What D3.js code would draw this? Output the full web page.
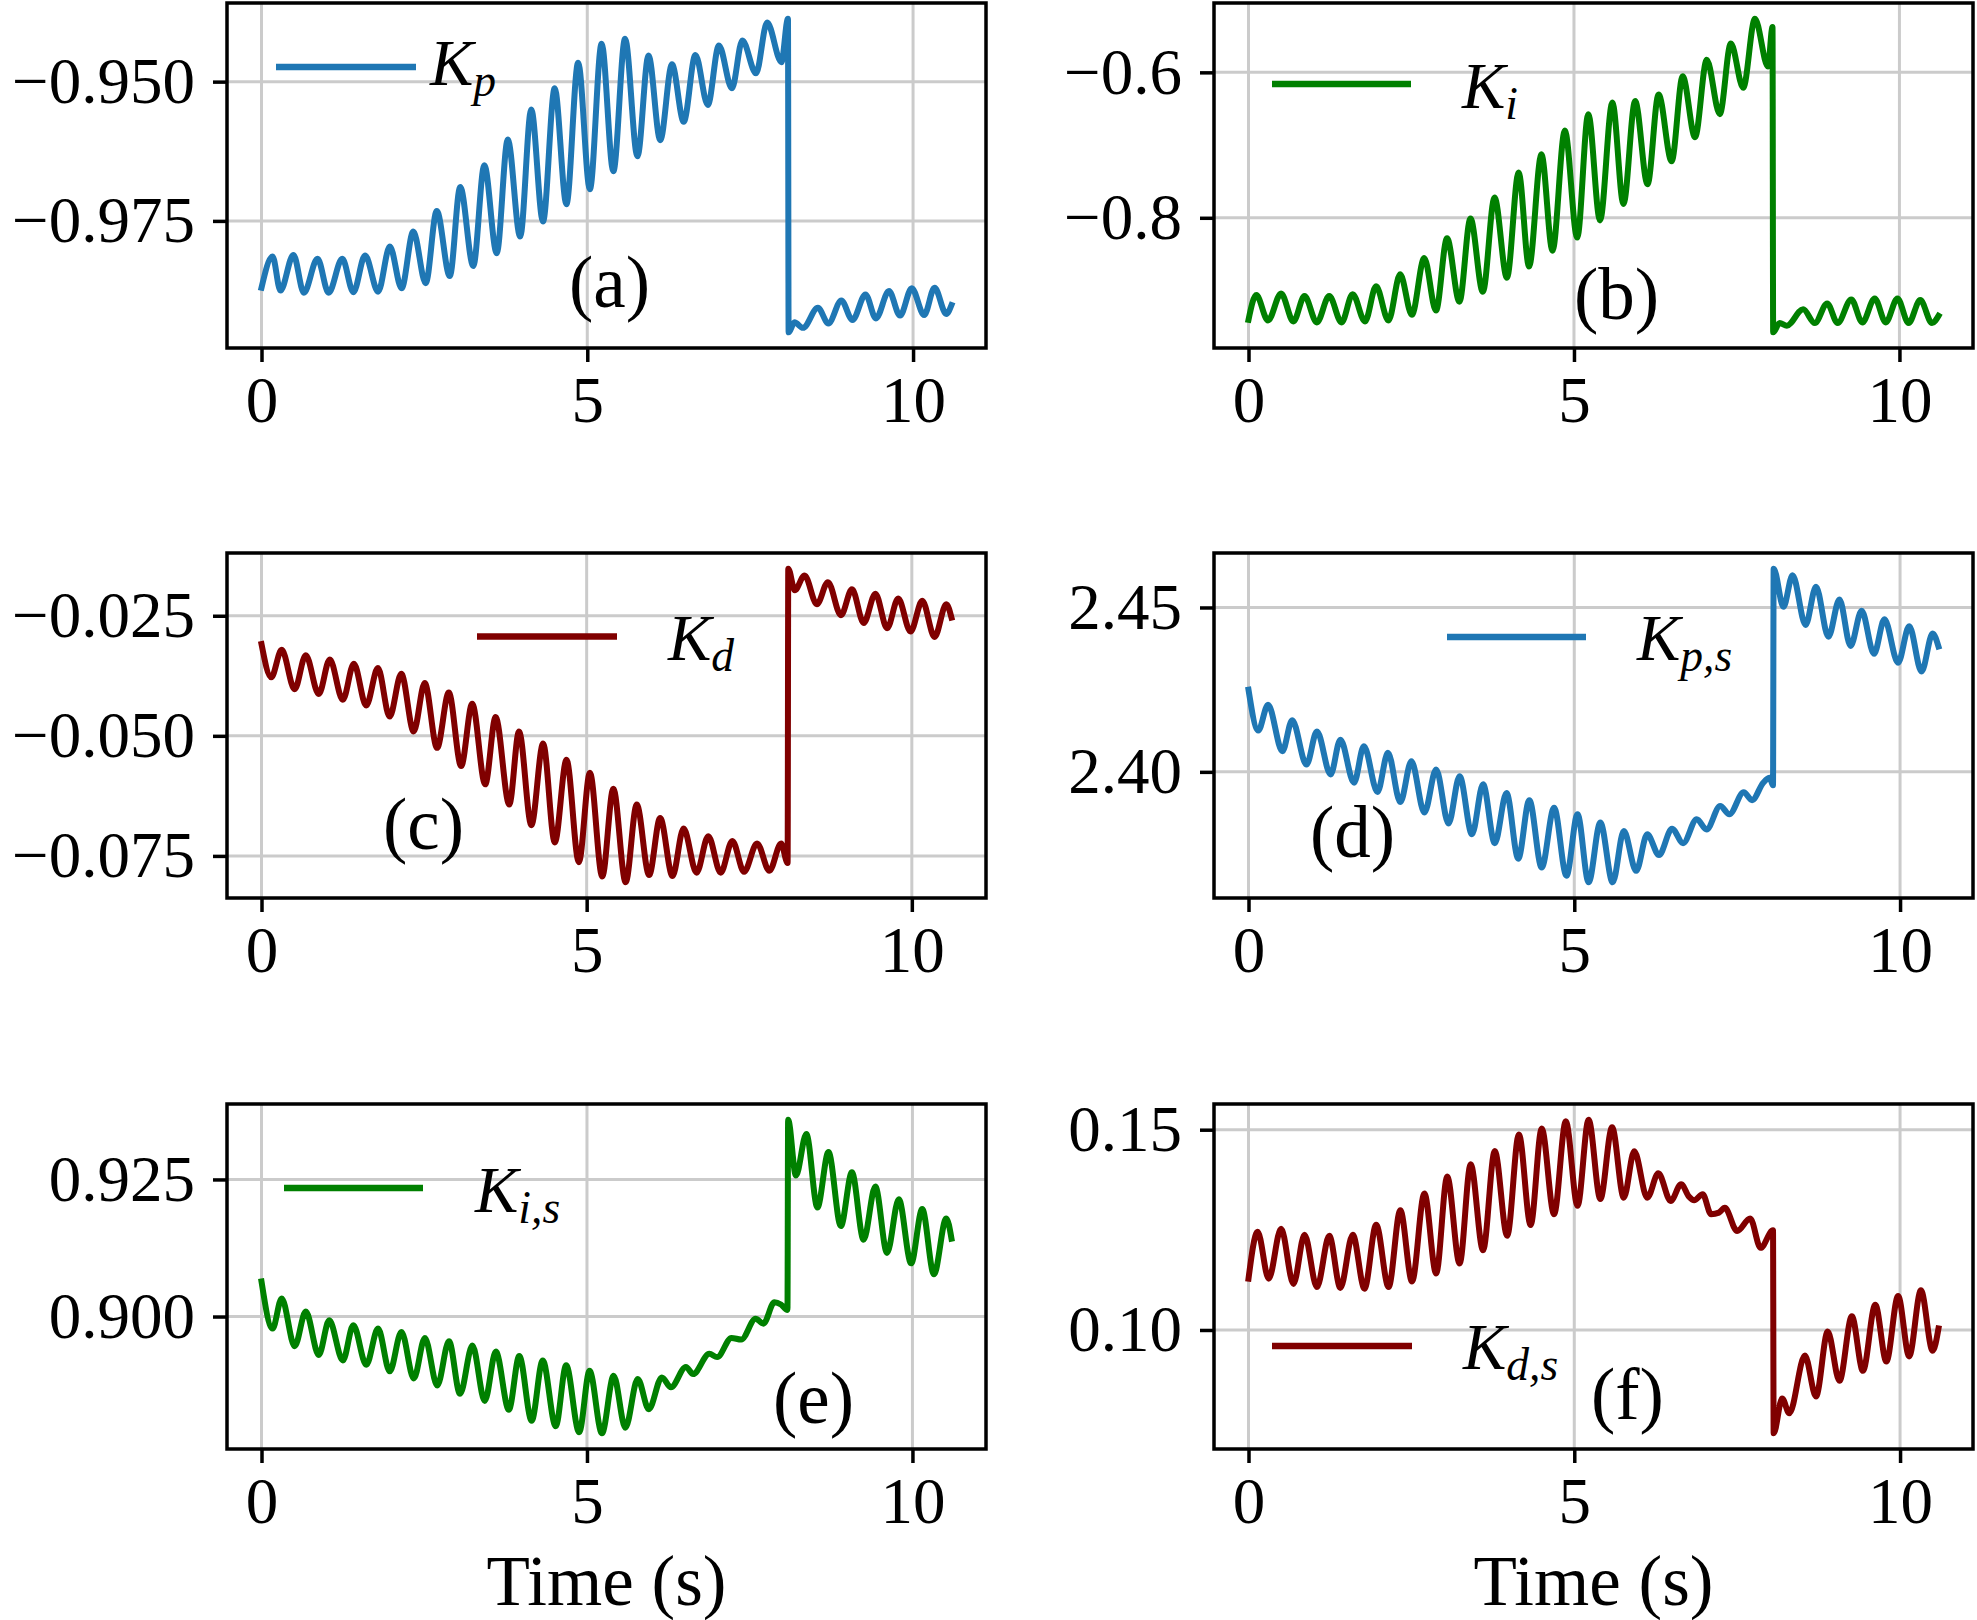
<!DOCTYPE html>
<html><head><meta charset="utf-8">
<script src="https://cdn.jsdelivr.net/npm/d3@7"></script>
<style>html,body{margin:0;padding:0;background:#fff;} svg{display:block;}</style>
</head><body><svg id="chart" width="1977" height="1620"></svg>
<script>
// ---- data (time in s, gain values at extrema) ----
const kpTime = [0,0.17,0.29,0.49,0.65,0.86,1.03,1.24,1.41,1.59,1.79,1.97,2.15,2.33,2.52,2.69,2.89,3.05,3.25,3.42,3.61,3.78,3.97,4.14,4.32,4.50,4.68,4.86,5.04,5.22,5.40,5.58,5.77,5.94,6.12,6.30,6.48,6.66,6.85,7.02,7.22,7.38,7.59,7.76,7.98,8.08,8.09,8.18,8.31,8.54,8.70,8.90,9.07,9.27,9.43,9.63,9.80,9.98,10.17,10.33,10.51,10.59];
const kpValue = [-0.9870,-0.9814,-0.9875,-0.9811,-0.9879,-0.9818,-0.9879,-0.9818,-0.9878,-0.9812,-0.9877,-0.9796,-0.9871,-0.9769,-0.9862,-0.9732,-0.9849,-0.9689,-0.9831,-0.9650,-0.9808,-0.9604,-0.9778,-0.9550,-0.9751,-0.9512,-0.9720,-0.9466,-0.9693,-0.9432,-0.9661,-0.9423,-0.9634,-0.9453,-0.9605,-0.9469,-0.9572,-0.9452,-0.9542,-0.9435,-0.9512,-0.9426,-0.9485,-0.9394,-0.9465,-0.9387,-0.9950,-0.9932,-0.9942,-0.9906,-0.9934,-0.9893,-0.9928,-0.9882,-0.9925,-0.9876,-0.9920,-0.9871,-0.9919,-0.9870,-0.9917,-0.9901];

const kiTime = [0,0.12,0.30,0.50,0.69,0.86,1.05,1.24,1.43,1.60,1.79,1.96,2.15,2.33,2.51,2.70,2.88,3.05,3.24,3.41,3.60,3.78,3.97,4.15,4.31,4.50,4.67,4.86,5.05,5.22,5.40,5.59,5.76,5.94,6.13,6.30,6.50,6.67,6.86,7.04,7.24,7.41,7.60,7.78,7.98,8.05,8.06,8.16,8.27,8.52,8.70,8.89,9.05,9.26,9.43,9.62,9.79,9.97,10.14,10.32,10.50,10.60];
const kiValue = [-0.9403,-0.9063,-0.9412,-0.9041,-0.9425,-0.9077,-0.9439,-0.9077,-0.9439,-0.9050,-0.9425,-0.8941,-0.9412,-0.8778,-0.9335,-0.8552,-0.9276,-0.8281,-0.9154,-0.8009,-0.9018,-0.7720,-0.8824,-0.7376,-0.8670,-0.7127,-0.8453,-0.6801,-0.8272,-0.6575,-0.8036,-0.6416,-0.7810,-0.6394,-0.7539,-0.6303,-0.7222,-0.6054,-0.6891,-0.5828,-0.6575,-0.5602,-0.6213,-0.5262,-0.5919,-0.5376,-0.9575,-0.9448,-0.9484,-0.9258,-0.9448,-0.9177,-0.9448,-0.9122,-0.9439,-0.9109,-0.9439,-0.9109,-0.9448,-0.9131,-0.9448,-0.9349];

const kdTime = [0,0.15,0.31,0.51,0.68,0.88,1.05,1.25,1.42,1.61,1.79,1.97,2.15,2.34,2.51,2.70,2.88,3.07,3.24,3.44,3.60,3.81,3.96,4.15,4.33,4.51,4.69,4.88,5.05,5.24,5.41,5.60,5.77,5.96,6.13,6.32,6.49,6.69,6.87,7.06,7.24,7.42,7.62,7.81,7.99,8.09,8.10,8.20,8.35,8.54,8.71,8.91,9.08,9.26,9.44,9.62,9.79,9.98,10.16,10.35,10.53,10.61];
const kdValue = [-0.0309,-0.0378,-0.0321,-0.0403,-0.0332,-0.0413,-0.0341,-0.0425,-0.0350,-0.0437,-0.0359,-0.0460,-0.0371,-0.0491,-0.0390,-0.0525,-0.0410,-0.0563,-0.0433,-0.0601,-0.0461,-0.0643,-0.0491,-0.0686,-0.0516,-0.0722,-0.0550,-0.0763,-0.0577,-0.0793,-0.0610,-0.0805,-0.0643,-0.0790,-0.0671,-0.0792,-0.0693,-0.0785,-0.0709,-0.0785,-0.0719,-0.0783,-0.0724,-0.0781,-0.0724,-0.0765,-0.0152,-0.0197,-0.0166,-0.0226,-0.0180,-0.0249,-0.0195,-0.0265,-0.0204,-0.0276,-0.0214,-0.0283,-0.0219,-0.0294,-0.0226,-0.0254];

const kpsTime = [0,0.15,0.30,0.52,0.67,0.89,1.05,1.26,1.41,1.62,1.77,1.98,2.14,2.33,2.50,2.70,2.88,3.07,3.24,3.43,3.60,3.78,3.96,4.14,4.31,4.50,4.69,4.88,5.05,5.22,5.40,5.59,5.76,5.95,6.12,6.30,6.50,6.67,6.88,7.03,7.24,7.38,7.60,7.73,7.90,8.00,8.05,8.06,8.21,8.35,8.55,8.71,8.90,9.07,9.24,9.41,9.60,9.76,9.97,10.14,10.33,10.50,10.59];
const kpsValue = [2.4250,2.4126,2.4204,2.4063,2.4157,2.4022,2.4123,2.3992,2.4098,2.3967,2.4078,2.3939,2.4058,2.3908,2.4032,2.3876,2.4007,2.3843,2.3987,2.3810,2.3962,2.3783,2.3936,2.3736,2.3914,2.3709,2.3891,2.3684,2.3871,2.3664,2.3846,2.3664,2.3820,2.3699,2.3810,2.3747,2.3827,2.3783,2.3856,2.3825,2.3896,2.3871,2.3938,2.3914,2.3967,2.3982,2.3959,2.4618,2.4502,2.4598,2.4447,2.4563,2.4411,2.4524,2.4383,2.4490,2.4359,2.4464,2.4332,2.4443,2.4305,2.4421,2.4381];

const kisTime = [0,0.17,0.31,0.51,0.68,0.88,1.04,1.25,1.41,1.61,1.79,1.97,2.15,2.34,2.51,2.70,2.88,3.05,3.24,3.43,3.60,3.80,3.96,4.15,4.32,4.52,4.68,4.88,5.04,5.23,5.41,5.59,5.78,5.95,6.15,6.29,6.52,6.63,6.88,7.00,7.22,7.37,7.59,7.71,7.88,7.98,8.08,8.09,8.21,8.37,8.54,8.71,8.90,9.07,9.25,9.43,9.61,9.79,9.98,10.15,10.33,10.52,10.60];
const kisValue = [0.9064,0.8978,0.9033,0.8946,0.9009,0.8930,0.8993,0.8920,0.8984,0.8912,0.8978,0.8900,0.8972,0.8887,0.8961,0.8874,0.8955,0.8859,0.8947,0.8846,0.8936,0.8830,0.8928,0.8810,0.8920,0.8800,0.8911,0.8789,0.8901,0.8787,0.8892,0.8797,0.8886,0.8831,0.8889,0.8871,0.8908,0.8895,0.8932,0.8926,0.8961,0.8958,0.8996,0.8987,0.9026,0.9022,0.9012,0.9359,0.9257,0.9333,0.9199,0.9300,0.9165,0.9263,0.9140,0.9237,0.9116,0.9214,0.9097,0.9196,0.9077,0.9179,0.9142];

const kdsTime = [0,0.14,0.31,0.50,0.69,0.86,1.05,1.24,1.41,1.60,1.78,1.96,2.15,2.33,2.51,2.70,2.88,3.05,3.24,3.41,3.60,3.78,3.97,4.15,4.33,4.50,4.69,4.87,5.05,5.22,5.40,5.58,5.76,5.92,6.12,6.29,6.48,6.64,6.76,6.84,6.97,7.10,7.22,7.31,7.50,7.70,7.86,8.05,8.06,8.19,8.30,8.54,8.71,8.89,9.07,9.26,9.43,9.62,9.79,9.97,10.14,10.32,10.50,10.59];
const kdsValue = [0.1128,0.1245,0.1128,0.1253,0.1115,0.1238,0.1107,0.1235,0.1105,0.1238,0.1103,0.1263,0.1107,0.1299,0.1121,0.1341,0.1141,0.1383,0.1166,0.1414,0.1199,0.1447,0.1235,0.1488,0.1262,0.1503,0.1289,0.1521,0.1310,0.1525,0.1327,0.1506,0.1330,0.1446,0.1330,0.1391,0.1322,0.1364,0.1333,0.1324,0.1339,0.1289,0.1293,0.1305,0.1247,0.1278,0.1205,0.1249,0.0742,0.0829,0.0792,0.0936,0.0834,0.0996,0.0873,0.1034,0.0898,0.1063,0.0921,0.1085,0.0934,0.1099,0.0948,0.1004];

// tick labels
const xTicks = [0, 5, 10];
const kpTicks = [-0.975, -0.950];
const kiTicks = [-0.8, -0.6];
const kdTicks = [-0.075, -0.050, -0.025];
const kpsTicks = [2.40, 2.45];
const kisTicks = [0.900, 0.925];
const kdsTicks = [0.10, 0.15];
const xLabel = "Time (s)";

// ---- layout / style ----
const SERIF = "'Liberation Serif','Times New Roman',Times,serif";
const W = 759, H = 345;
const colX = [227, 1214], rowY = [3, 553, 1104];

const panels = [
  {time: kpTime, value: kpValue, ticks: kpTicks, fmt: ".3f", color: "#1f77b4", sub: "p", tag: "(a)", col: 0, row: 0,
   leg: {x0: 49, x1: 189, y: 64, tx: 203, ty: 82}, ann: {x: 342, y: 304}},
  {time: kiTime, value: kiValue, ticks: kiTicks, fmt: ".1f", color: "#008000", sub: "i", tag: "(b)", col: 1, row: 0,
   leg: {x0: 58, x1: 197, y: 81, tx: 248, ty: 105}, ann: {x: 360, y: 316}},
  {time: kdTime, value: kdValue, ticks: kdTicks, fmt: ".3f", color: "#800000", sub: "d", tag: "(c)", col: 0, row: 1,
   leg: {x0: 250, x1: 390, y: 83.5, tx: 441, ty: 107}, ann: {x: 156, y: 296}},
  {time: kpsTime, value: kpsValue, ticks: kpsTicks, fmt: ".2f", color: "#1f77b4", sub: "p,s", tag: "(d)", col: 1, row: 1,
   leg: {x0: 233, x1: 372, y: 84, tx: 423, ty: 107}, ann: {x: 96, y: 304}},
  {time: kisTime, value: kisValue, ticks: kisTicks, fmt: ".3f", color: "#008000", sub: "i,s", tag: "(e)", col: 0, row: 2,
   leg: {x0: 57, x1: 196, y: 84, tx: 248, ty: 108}, ann: {x: 546, y: 319}},
  {time: kdsTime, value: kdsValue, ticks: kdsTicks, fmt: ".2f", color: "#800000", sub: "d,s", tag: "(f)", col: 1, row: 2,
   leg: {x0: 58, x1: 198, y: 242, tx: 249, ty: 265}, ann: {x: 377, y: 315}}
];

const svg = d3.select("#chart");
svg.append("rect").attr("width", 1977).attr("height", 1620).attr("fill", "#fff");

function padded(ext) { const r = ext[1] - ext[0]; return [ext[0] - 0.05 * r, ext[1] + 0.05 * r]; }

panels.forEach(p => {
  const g = svg.append("g").attr("transform", `translate(${colX[p.col]},${rowY[p.row]})`);
  const x = d3.scaleLinear().domain(padded(d3.extent(p.time))).range([0, W]);
  const y = d3.scaleLinear().domain(padded(d3.extent(p.value))).range([H, 0]);

  // grid
  g.selectAll(".gx").data(xTicks).join("line")
    .attr("x1", d => x(d)).attr("x2", d => x(d)).attr("y1", 0).attr("y2", H)
    .attr("stroke", "#cbcbcb").attr("stroke-width", 3);
  g.selectAll(".gy").data(p.ticks).join("line")
    .attr("x1", 0).attr("x2", W).attr("y1", d => y(d)).attr("y2", d => y(d))
    .attr("stroke", "#cbcbcb").attr("stroke-width", 3);

  // data line
  const pts = p.time.map((t, i) => [t, p.value[i]]);
  const line = d3.line().x(d => x(d[0])).y(d => y(d[1])).curve(d3.curveMonotoneX);
  g.append("path").datum(pts).attr("d", line)
    .attr("fill", "none").attr("stroke", p.color).attr("stroke-width", 6)
    .attr("stroke-linejoin", "round").attr("stroke-linecap", "square");

  // legend
  g.append("line").attr("x1", p.leg.x0).attr("x2", p.leg.x1).attr("y1", p.leg.y).attr("y2", p.leg.y)
    .attr("stroke", p.color).attr("stroke-width", 6.5);
  const lt = g.append("text").attr("x", p.leg.tx).attr("y", p.leg.ty)
    .attr("font-family", SERIF).attr("font-style", "italic").attr("font-size", 65).attr("fill", "#000");
  lt.append("tspan").text("K");
  lt.append("tspan").attr("font-size", 45.5).attr("dy", 11).text(p.sub);

  // panel tag
  g.append("text").attr("x", p.ann.x).attr("y", p.ann.y)
    .attr("font-family", SERIF).attr("font-size", 73).attr("fill", "#000").text(p.tag);

  // spines
  g.append("rect").attr("width", W).attr("height", H).attr("fill", "none")
    .attr("stroke", "#000").attr("stroke-width", 3.5);

  // axes
  const ax = g.append("g").attr("transform", `translate(0,${H})`)
    .call(d3.axisBottom(x).tickValues(xTicks).tickFormat(d3.format("d")).tickSize(14).tickPadding(14));
  const ay = g.append("g")
    .call(d3.axisLeft(y).tickValues(p.ticks).tickFormat(d3.format(p.fmt)).tickSize(14).tickPadding(18));
  [ax, ay].forEach(a => {
    a.select(".domain").remove();
    a.attr("font-family", SERIF).attr("font-size", 65);
    a.selectAll(".tick line").attr("stroke", "#000").attr("stroke-width", 3.5);
    a.selectAll(".tick text").attr("fill", "#000");
  });

  if (p.row === 2) {
    g.append("text").attr("x", W / 2).attr("y", 1605 - rowY[2]).attr("text-anchor", "middle")
      .attr("font-family", SERIF).attr("font-size", 71).attr("fill", "#000").text(xLabel);
  }
});
</script>
</body></html>
